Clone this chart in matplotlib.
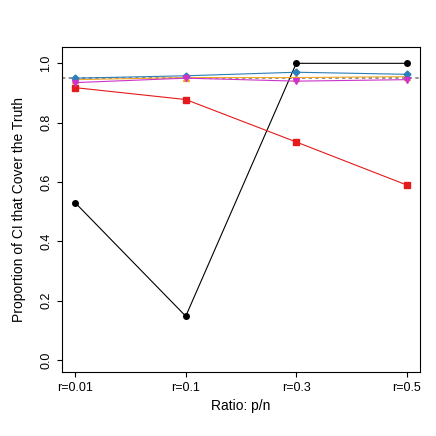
import matplotlib
matplotlib.use("Agg")
import matplotlib.pyplot as plt

labels = ["r=0.01", "r=0.1", "r=0.3", "r=0.5"]
black = [0.53, 0.148, 1.0, 1.0]
red = [0.918, 0.878, 0.735, 0.59]
orange = [0.945, 0.952, 0.952, 0.955]
blue = [0.950, 0.958, 0.970, 0.963]
magenta = [0.935, 0.950, 0.940, 0.945]

plt.rcParams["font.family"] = ["Liberation Sans", "DejaVu Sans"]
fig = plt.figure(figsize=(4.36, 4.36), dpi=100)
ax = fig.add_axes([62 / 436, 64 / 436, 358 / 436, 325 / 436])
x = range(len(labels))
ax.axhline(0.95, color="gray", ls=(0, (2, 2)), lw=1.2)
ax.plot(x, black, "-o", color="black", ms=4, lw=0.8)
ax.plot(x, red, "-s", color="#e41a1c", ms=4, lw=0.8)
ax.plot(x, orange, "-^", color="#f5a623", ms=4, lw=0.8)
ax.plot(x, blue, "-D", color="#2c7fb8", ms=3.5, lw=0.8)
ax.plot(x, magenta, "-v", color="#cc33cc", ms=4, lw=0.8)
ax.set_xlim(-0.12, 3.12)
ax.set_ylim(-0.04, 1.055)
ax.set_xticks(list(x), labels)
ax.set_yticks([0, 0.2, 0.4, 0.6, 0.8, 1.0], ["0.0", "0.2", "0.4", "0.6", "0.8", "1.0"], rotation=90, va="center")
ax.tick_params(labelsize=9)
ax.set_xlabel("Ratio: p/n", fontsize=10)
ax.set_ylabel("Proportion of CI that Cover the Truth", fontsize=10, labelpad=10)
fig.savefig("out.png", dpi=100)
